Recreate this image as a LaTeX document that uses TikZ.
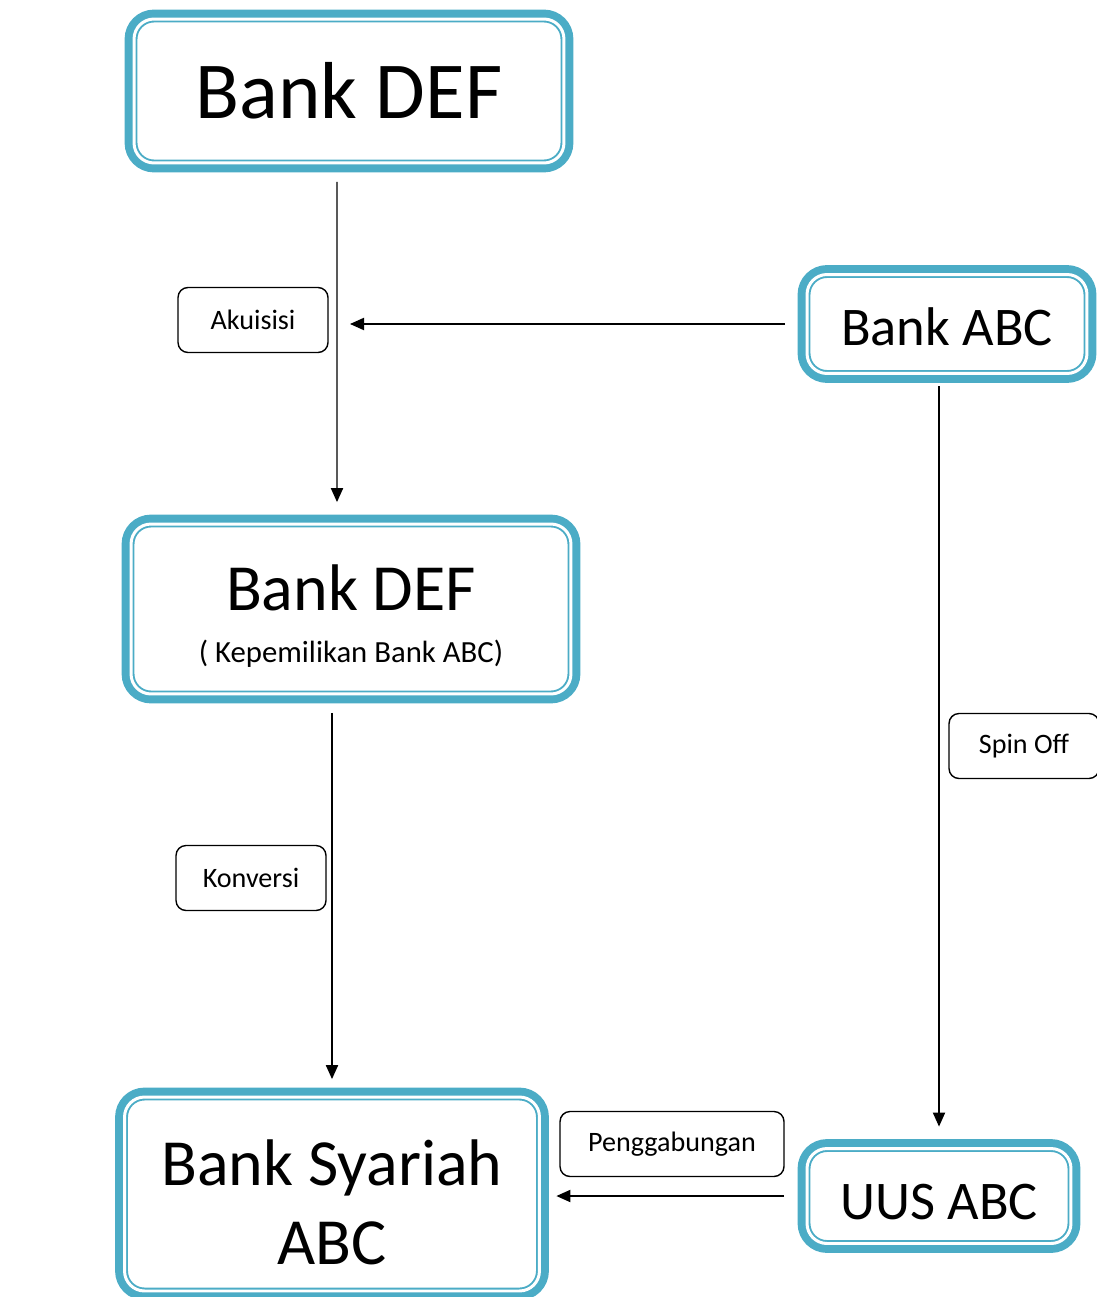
\documentclass[tikz,border=0pt]{standalone}
\usepackage{fontspec}
\setmainfont{Carlito}
\usetikzlibrary{arrows.meta}
\definecolor{boxteal}{HTML}{4BACC6}

\begin{document}
\begin{tikzpicture}[x=0.02cm, y=-0.02cm,
  bankbox/.style={rounded corners=0.4cm, preaction={draw=boxteal, line width=10.7pt},
    fill=white, draw=boxteal, line width=1.1pt, double=white, double distance=1.7pt,
    align=center, inner sep=0pt},
  tagbox/.style={draw=black, rounded corners=0.2cm, line width=0.8pt, minimum width=3cm,
    minimum height=1.3cm, inner sep=0pt, font=\fontsize{16}{19}\selectfont},
  flow/.style={draw=black, line width=0.7pt, -{Triangle[length=8pt,width=7pt]}}]
\useasboundingbox (0,0) rectangle (1097,1297);

% boxes
\node[bankbox, minimum width=8.6cm, minimum height=2.88cm, font=\fontsize{46}{50}\selectfont] (bankdef) at (349,91) {Bank DEF};
\node[bankbox, minimum width=5.6cm, minimum height=1.98cm, font=\fontsize{31}{36}\selectfont,
  text height=24pt, text depth=0pt] (bankabc) at (947,324) {Bank ABC};
\node[bankbox, minimum width=8.8cm, minimum height=3.4cm, font=\fontsize{17.5}{29.5}\selectfont] (bankdefabc) at (351,609)
  {{\fontsize{37.5}{29.5}\selectfont\rule{0pt}{34pt}Bank DEF}\\( Kepemilikan Bank ABC)};
\node[bankbox, minimum width=8.3cm, minimum height=3.88cm, font=\fontsize{37.5}{45}\selectfont] (syariah) at (332,1194)
  {\rule{0pt}{35pt}Bank Syariah\\ABC};
\node[bankbox, minimum width=5.28cm, minimum height=1.9cm, font=\fontsize{31}{36}\selectfont,
  text height=27pt, text depth=0pt] (uus) at (939,1196) {UUS ABC};

% labels
\node[tagbox] (akuisisi) at (253,320) {Akuisisi};
\node[tagbox] (konversi) at (251,878) {Konversi};
\node[tagbox] (spinoff) at (1024,746) {Spin Off};
\node[tagbox, minimum width=4.48cm] (penggabungan) at (672,1144) {Penggabungan};

% arrows
\coordinate (akuline) at ([xshift=-0.24cm]bankdef.south);
\draw[flow, shorten <=0.36cm, shorten >=0.42cm] (akuline) -- ([xshift=-0.28cm]bankdefabc.north);
\draw[flow, shorten <=0.42cm, shorten >=0.26cm] (bankabc.west) -- (akuline |- bankabc.west);
\draw[flow, shorten <=0.36cm, shorten >=0.34cm] (bankdefabc.south -| syariah.north) -- (syariah.north);
\draw[flow, shorten <=0.24cm, shorten >=0.42cm] (bankabc.south -| uus.north) -- (uus.north);
\draw[flow, shorten <=0.44cm, shorten >=0.32cm] (uus.west) -- (uus.west -| syariah.east);
\end{tikzpicture}
\end{document}
